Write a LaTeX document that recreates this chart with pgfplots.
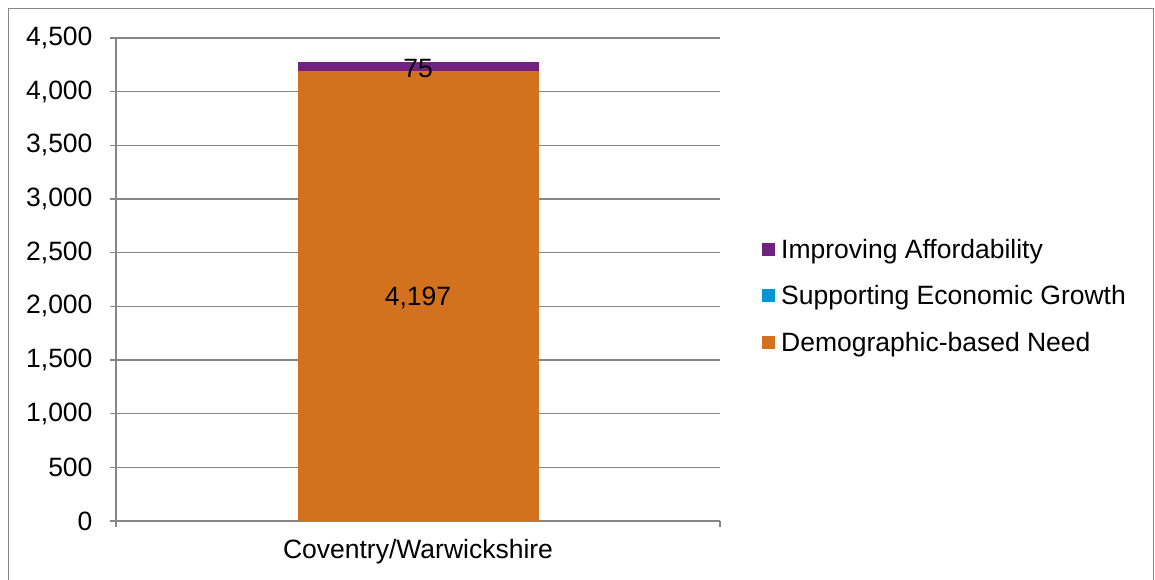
\documentclass[border=0pt]{standalone}
\usepackage{pgfplots}
\pgfplotsset{compat=1.18}
\usepackage{fontspec}
\setmainfont{Liberation Sans}
\definecolor{cpurple}{RGB}{112,34,126}
\definecolor{cblue}{RGB}{0,150,214}
\definecolor{corange}{RGB}{210,113,30}
\definecolor{cgrid}{RGB}{134,134,134}
\newcommand{\cfont}{\fontsize{26.5}{31}\selectfont}
\begin{document}
\begin{tikzpicture}[x=1pt,y=1pt]
\useasboundingbox (0,0) rectangle (1155,580);
\draw[cgrid, line width=1.5pt] (8.5,-2) -- (8.5,571.5) -- (1153.5,571.5) -- (1153.5,-2);
\begin{axis}[
  at={(116pt,59pt)}, anchor=south west,
  scale only axis, width=604pt, height=483pt,
  ybar stacked, bar width=241pt,
  xmin=-1.25, xmax=1.25, ymin=0, ymax=4500,
  ytick={0,500,...,4500},
  xtick={-1.25,1.25}, xticklabels={,,},
  extra x ticks={0}, extra x tick labels={Coventry/Warwickshire},
  extra x tick style={major tick length=0pt, grid=none},
  axis lines*=left,
  axis line style={cgrid, line width=1.5pt, -},
  ymajorgrids, grid style={cgrid, line width=1.4pt},
  tick style={cgrid, line width=1.5pt},
  major tick length=6pt, tick align=outside,
  tick label style={font=\cfont, text=black},
  yticklabel style={xshift=-14pt},
  xticklabel style={yshift=-15pt},
  /pgf/number format/1000 sep={,},
  /pgf/number format/assume math mode=true,
  reverse legend,
  legend cell align=left,
  legend style={draw=none, fill=none, at={(1.0695,0.466)}, anchor=west,
    font=\cfont, row sep=14pt, inner sep=0pt,
    nodes={inner sep=6pt}},
  legend image code/.code={\fill[#1] (0pt,-6.5pt) rectangle (13pt,6.5pt);},
]
\addplot[fill=corange, draw=none, nodes near coords, point meta=explicit,
  every node near coord/.style={anchor=center, yshift=-2.5pt, font=\cfont, text=black}]
  coordinates {(0,4197) [4197]};
\addlegendentry{Demographic-based Need}
\addplot[fill=cblue, draw=none] coordinates {(0,0)};
\addlegendentry{Supporting Economic Growth}
\addplot[fill=cpurple, draw=none, nodes near coords, point meta=explicit,
  every node near coord/.style={anchor=center, yshift=-2pt, font=\cfont, text=black}]
  coordinates {(0,75) [75]};
\addlegendentry{Improving Affordability}
\end{axis}
\end{tikzpicture}
\end{document}
